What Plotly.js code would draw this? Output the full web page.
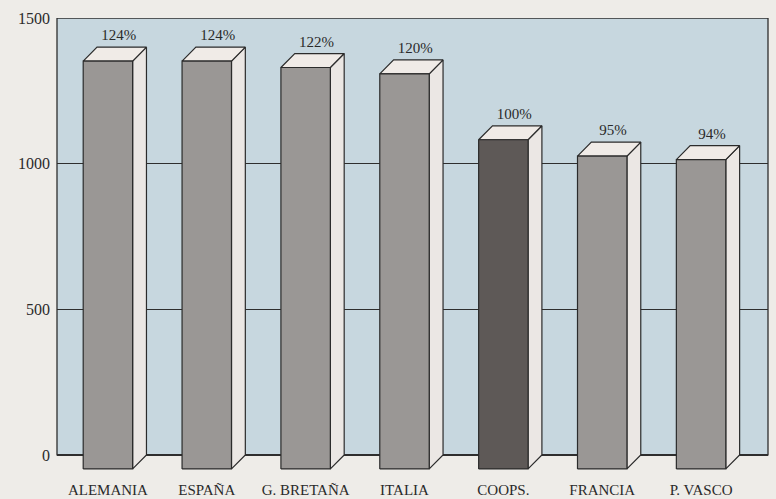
<!DOCTYPE html>
<html>
<head>
<meta charset="utf-8">
<script src="https://cdn.plot.ly/plotly-3.0.1.min.js"></script>
<style>html,body{margin:0;padding:0;background:#eeece8;}</style>
</head>
<body>
<div id="chart" style="width:776px;height:499px;"></div>
<script>
// Data
var categories = ["ALEMANIA", "ESPAÑA", "G. BRETAÑA", "ITALIA", "COOPS.", "FRANCIA", "P. VASCO"];
var values = [1400, 1400, 1378, 1356, 1130, 1074, 1062];
var percentLabels = ["124%", "124%", "122%", "120%", "100%", "95%", "94%"];
var yTicks = [0, 500, 1000, 1500];

// Style / geometry of the pseudo-3D bars
var barW = 0.5;      // front face width (x units)
var depthX = 0.14;   // depth offset in x units
var depthY = 48;     // depth offset in y units
var frontColors = categories.map(function (c) { return c === "COOPS." ? "#5e5957" : "#9a9795"; });
var sideColor = "#ebe7e4";
var topColor = "#f0ebe7";
var edge = {color: "#2b2b2b", width: 1.2};

var traces = [];
categories.forEach(function (cat, i) {
  var v = values[i];
  var xl = i - barW / 2, xr = i + barW / 2;
  // side face
  traces.push({
    type: "scatter", mode: "lines", fill: "toself", fillcolor: sideColor, line: edge,
    x: [xr, xr + depthX, xr + depthX, xr, xr],
    y: [-depthY, 0, v, v - depthY, -depthY],
    hoverinfo: "skip", showlegend: false
  });
  // top face
  traces.push({
    type: "scatter", mode: "lines", fill: "toself", fillcolor: topColor, line: edge,
    x: [xl, xl + depthX, xr + depthX, xr, xl],
    y: [v - depthY, v, v, v - depthY, v - depthY],
    hoverinfo: "skip", showlegend: false
  });
  // front face
  traces.push({
    type: "scatter", mode: "lines", fill: "toself", fillcolor: frontColors[i], line: edge,
    x: [xl, xr, xr, xl, xl],
    y: [-depthY, -depthY, v - depthY, v - depthY, -depthY],
    name: cat, hoverinfo: "skip", showlegend: false
  });
});

// percent labels
traces.push({
  type: "scatter", mode: "text",
  x: categories.map(function (c, i) { return i + depthX / 2 + 0.04; }),
  y: values.map(function (v) { return v + 36; }),
  text: percentLabels,
  textposition: "middle center",
  textfont: {family: "Liberation Serif, DejaVu Serif, serif", size: 15, color: "#2a2a2a"},
  hoverinfo: "skip", showlegend: false, cliponaxis: false
});

var layout = {
  width: 776, height: 499,
  margin: {l: 57, r: 8, t: 18, b: 26},
  paper_bgcolor: "#eeece8",
  plot_bgcolor: "#eeece8",
  showlegend: false,
  font: {family: "Liberation Serif, DejaVu Serif, serif", color: "#2a2a2a"},
  xaxis: {
    range: [-0.515, 6.677],
    tickmode: "array",
    tickvals: categories.map(function (c, i) { return i; }),
    ticktext: categories,
    showgrid: false, zeroline: false, showline: false, ticks: "",
    ticklabelstandoff: 6,
    tickfont: {family: "Liberation Serif, DejaVu Serif, serif", size: 15, color: "#2a2a2a"},
    fixedrange: true
  },
  yaxis: {
    range: [-62, 1500],
    tickmode: "array",
    tickvals: yTicks,
    ticktext: yTicks.map(String),
    showgrid: true, gridcolor: "#2e2e2e", gridwidth: 1.3,
    zeroline: false, showline: false, ticks: "",
    ticklabelstandoff: 6,
    tickfont: {family: "Liberation Serif, DejaVu Serif, serif", size: 16, color: "#2a2a2a"},
    fixedrange: true
  },
  shapes: [{
    type: "rect", layer: "below",
    xref: "paper", x0: 0, x1: 1,
    yref: "y", y0: 0, y1: 1500,
    fillcolor: "#c7d7df",
    line: {color: "#2e2e2e", width: 1.3}
  }]
};

Plotly.newPlot("chart", traces, layout, {displayModeBar: false, staticPlot: true});
</script>
</body>
</html>
